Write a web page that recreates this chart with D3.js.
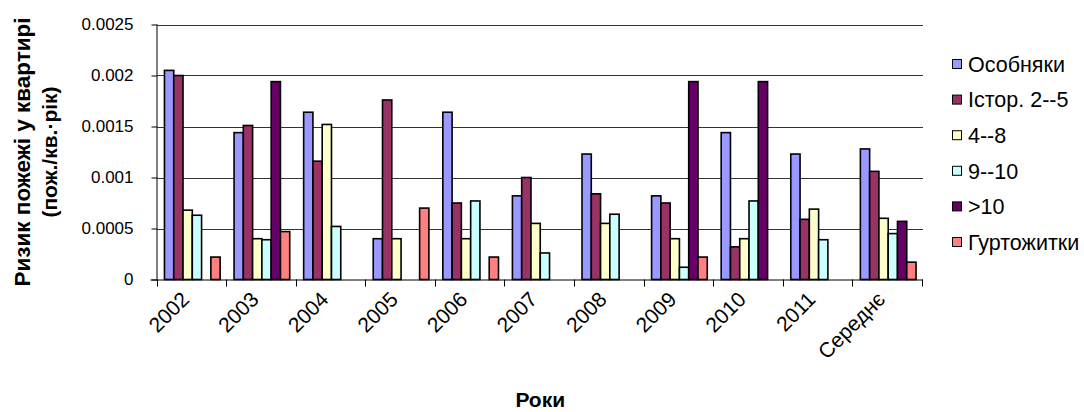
<!DOCTYPE html>
<html>
<head>
<meta charset="utf-8">
<script src="https://cdn.jsdelivr.net/npm/d3@7"></script>
<style>
  html, body { margin: 0; padding: 0; background: #fff; }
  svg { display: block; font-family: "Liberation Sans", Arial, sans-serif; }
</style>
</head>
<body>
<svg id="chart" width="1084" height="412"></svg>
<script>
// Fire risk per apartment by building type and year
const categories = ["2002", "2003", "2004", "2005", "2006", "2007", "2008", "2009", "2010", "2011", "Середнє"];
const seriesNames = ["Особняки", "Істор. 2--5", "4--8", "9--10", ">10", "Гуртожитки"];
const seriesColors = ["#9999FF", "#993366", "#FFFFCC", "#CCFFFF", "#660066", "#FF8080"];

const osobnyaky  = [0.00205, 0.00144, 0.00164, 0.00040, 0.00164, 0.00082, 0.00123, 0.00082, 0.00144, 0.00123, 0.00128];
const istor      = [0.00200, 0.00151, 0.00116, 0.00176, 0.00075, 0.00100, 0.00084, 0.00075, 0.00032, 0.00059, 0.00106];
const floors4to8 = [0.00068, 0.00040, 0.00152, 0.00040, 0.00040, 0.00055, 0.00055, 0.00040, 0.00040, 0.00069, 0.00060];
const floors9to10 = [0.00063, 0.00039, 0.00052, null, 0.00077, 0.00026, 0.00064, 0.00012, 0.00077, 0.00039, 0.00045];
const floorsOver10 = [null, 0.00194, null, null, null, null, null, 0.00194, 0.00194, null, 0.00057];
const dormitories = [0.00022, 0.00047, null, 0.00070, 0.00022, null, null, 0.00022, null, null, 0.00017];

const yTicks = [0, 0.0005, 0.001, 0.0015, 0.002, 0.0025];
const yTickLabels = ["0", "0.0005", "0.001", "0.0015", "0.002", "0.0025"];

const yTitleLines = ["Ризик пожежі у квартирі", "(пож./кв.·рік)"];
const xTitle = "Роки";

const seriesValues = [osobnyaky, istor, floors4to8, floors9to10, floorsOver10, dormitories];

const svg = d3.select("#chart");
const plot = { left: 157.5, right: 923, top: 24.5, bottom: 279.5 };

const x = d3.scaleBand().domain(categories).range([plot.left, plot.right]).paddingInner(0).paddingOuter(0);
const y = d3.scaleLinear().domain([0, 0.0025]).range([plot.bottom, plot.top]);

// series positions inside each category: bars plus a 150% gap split on both sides
const barW = x.bandwidth() / (seriesNames.length + 1.5);
const xs = d3.scaleBand().domain(d3.range(seriesNames.length))
  .range([barW * 0.75, barW * 0.75 + barW * seriesNames.length]).padding(0);

// horizontal gridlines
svg.append("g")
  .selectAll("line")
  .data(yTicks.slice(1))
  .join("line")
  .attr("x1", plot.left).attr("x2", plot.right)
  .attr("y1", d => Math.round(y(d)) + 0.5).attr("y2", d => Math.round(y(d)) + 0.5)
  .attr("stroke", "#333").attr("stroke-width", 1);

// bars
const groups = svg.append("g")
  .selectAll("g")
  .data(seriesValues)
  .join("g")
  .attr("fill", (d, i) => seriesColors[i]);

groups.selectAll("rect")
  .data((vals, si) => vals.map((v, ci) => ({ v, ci, si })).filter(d => d.v != null))
  .join("rect")
  .attr("x", d => x(categories[d.ci]) + xs(d.si))
  .attr("width", xs.bandwidth())
  .attr("y", d => y(d.v))
  .attr("height", d => y(0) - y(d.v))
  .attr("stroke", "#000")
  .attr("stroke-width", 1.6);

// y axis
const yAxis = d3.axisLeft(y)
  .tickValues(yTicks)
  .tickFormat((d, i) => yTickLabels[i])
  .tickSize(6)
  .tickPadding(18);
const gy = svg.append("g").attr("transform", `translate(${plot.left},0)`).call(yAxis);
gy.select(".domain").attr("stroke", "#000").attr("d", `M-0.5,${plot.top}V${plot.bottom}`);
gy.selectAll(".tick line").attr("stroke", "#000");
gy.selectAll(".tick text").attr("font-size", 17).attr("fill", "#000")
  .attr("font-family", "Liberation Sans, Arial, sans-serif");

// x axis
const xAxis = d3.axisBottom(x).tickSize(0).tickFormat("");
const gx = svg.append("g").attr("transform", `translate(0,${plot.bottom})`).call(xAxis);
gx.select(".domain").attr("stroke", "#000").attr("d", `M${plot.left - 7},0.5H${plot.right}`);
gx.selectAll(".tick").remove();

// category boundary ticks
svg.append("g")
  .selectAll("line")
  .data(categories.map(c => x(c)).concat([plot.right]))
  .join("line")
  .attr("x1", d => Math.round(d) - 0.5).attr("x2", d => Math.round(d) - 0.5)
  .attr("y1", plot.bottom).attr("y2", plot.bottom + 7)
  .attr("stroke", "#000");

// rotated category labels
svg.append("g")
  .selectAll("text")
  .data(categories)
  .join("text")
  .attr("transform", d => `translate(${x(d) + x.bandwidth() / 2 - 7},${plot.bottom + 16}) rotate(-45)`)
  .attr("text-anchor", "end")
  .attr("dy", "0.35em")
  .attr("font-size", 21)
  .text(d => d);

// axis titles
svg.append("text")
  .attr("transform", `translate(${(plot.left + plot.right) / 2},407)`)
  .attr("text-anchor", "middle")
  .attr("font-size", 21).attr("font-weight", "bold")
  .text(xTitle);

const yTitle = svg.append("text")
  .attr("transform", `translate(30,152) rotate(-90)`)
  .attr("text-anchor", "middle")
  .attr("font-weight", "bold");
yTitleLines.forEach((t, i) => {
  yTitle.append("tspan")
    .attr("x", 0)
    .attr("dy", i === 0 ? 0 : 27)
    .attr("font-size", i === 0 ? 22.5 : 21)
    .text(t);
});

// legend
const legend = svg.append("g")
  .selectAll("g")
  .data(seriesNames)
  .join("g")
  .attr("transform", (d, i) => `translate(952,${64 + i * 35.6})`);
legend.append("rect")
  .attr("x", 0.5).attr("y", -4.5).attr("width", 9).attr("height", 9)
  .attr("fill", (d, i) => seriesColors[i]).attr("stroke", "#000");
legend.append("text")
  .attr("x", 16).attr("dy", "0.36em")
  .attr("font-size", 21.5)
  .text(d => d);
</script>
</body>
</html>
